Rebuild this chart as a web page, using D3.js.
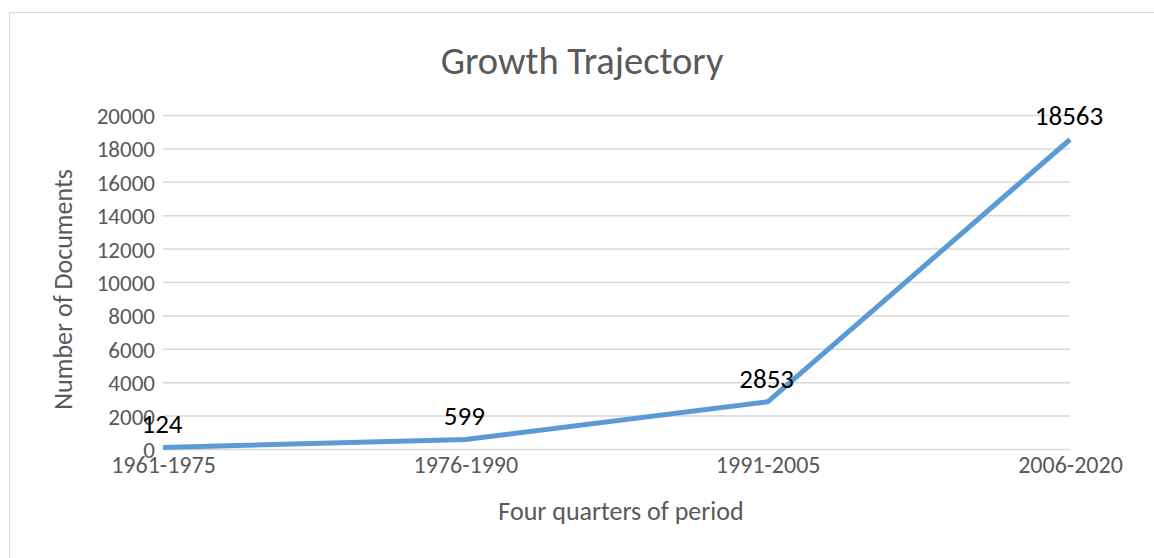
<!DOCTYPE html>
<html>
<head>
<meta charset="utf-8">
<script src="https://cdn.jsdelivr.net/npm/d3@7"></script>
<style>
  body { margin: 0; background: #fff; }
  svg { display: block; font-family: Carlito, Lato, "Liberation Sans", sans-serif; }
</style>
</head>
<body>
<div id="chart"></div>
<script>
// Data
const periods = ["1961-1975", "1976-1990", "1991-2005", "2006-2020"];
const documents = [124, 599, 2853, 18563];
const yTicks = [0, 2000, 4000, 6000, 8000, 10000, 12000, 14000, 16000, 18000, 20000];

const W = 1154, H = 558;
const plot = { left: 163, right: 1070, top: 115.5, bottom: 449.5 };

const svg = d3.select("#chart").append("svg")
    .attr("width", W)
    .attr("height", H);

// chart frame
svg.append("rect")
    .attr("x", 9.5).attr("y", 12.5)
    .attr("width", 1160).attr("height", 560)
    .attr("fill", "#fff")
    .attr("stroke", "#d9d9d9")
    .attr("stroke-width", 1);

const x = d3.scalePoint()
    .domain(periods)
    .range([plot.left, plot.right]);

const y = d3.scaleLinear()
    .domain([0, 20000])
    .range([plot.bottom, plot.top]);

// gridlines
svg.append("g")
    .selectAll("line")
    .data(yTicks)
    .join("line")
    .attr("x1", plot.left)
    .attr("x2", plot.right)
    .attr("y1", d => y(d))
    .attr("y2", d => y(d))
    .attr("stroke", "#d9d9d9")
    .attr("stroke-width", 1.5);

// y axis labels
const yAxis = svg.append("g")
    .attr("transform", `translate(${plot.left - 8},0)`)
    .call(d3.axisLeft(y).tickValues(yTicks).tickSize(0).tickPadding(0).tickFormat(d3.format("d")))
    .attr("font-family", null)
    .attr("font-size", null);
yAxis.select(".domain").remove();
yAxis.selectAll("text")
    .attr("font-size", 23)
    .attr("fill", "#595959")
    .attr("dy", "0.35em");

// x axis labels
const xAxis = svg.append("g")
    .attr("transform", `translate(0,${plot.bottom})`)
    .call(d3.axisBottom(x).tickSize(0).tickPadding(6))
    .attr("font-family", null)
    .attr("font-size", null);
xAxis.select(".domain").remove();
xAxis.selectAll("text")
    .attr("font-size", 24)
    .attr("fill", "#595959");

// line
const line = d3.line()
    .x((d, i) => x(periods[i]))
    .y(d => y(d));

svg.append("path")
    .datum(documents)
    .attr("d", line)
    .attr("fill", "none")
    .attr("stroke", "#5b9bd5")
    .attr("stroke-width", 5)
    .attr("stroke-linejoin", "round");

// data labels
svg.append("g")
    .selectAll("text")
    .data(documents)
    .join("text")
    .attr("x", (d, i) => x(periods[i]) - 1)
    .attr("y", d => y(d) - 14)
    .attr("text-anchor", "middle")
    .attr("font-size", 27)
    .attr("fill", "#000")
    .text(d => d);

// title
svg.append("text")
    .attr("x", 582)
    .attr("y", 74)
    .attr("text-anchor", "middle")
    .attr("font-size", 38.5)
    .attr("fill", "#595959")
    .text("Growth Trajectory");

// axis titles
svg.append("text")
    .attr("x", 621)
    .attr("y", 520)
    .attr("text-anchor", "middle")
    .attr("font-size", 26)
    .attr("fill", "#595959")
    .text("Four quarters of period");

svg.append("text")
    .attr("transform", `translate(72,${(plot.top + plot.bottom) / 2 + 7}) rotate(-90)`)
    .attr("text-anchor", "middle")
    .attr("font-size", 26)
    .attr("fill", "#595959")
    .text("Number of Documents");
</script>
</body>
</html>
